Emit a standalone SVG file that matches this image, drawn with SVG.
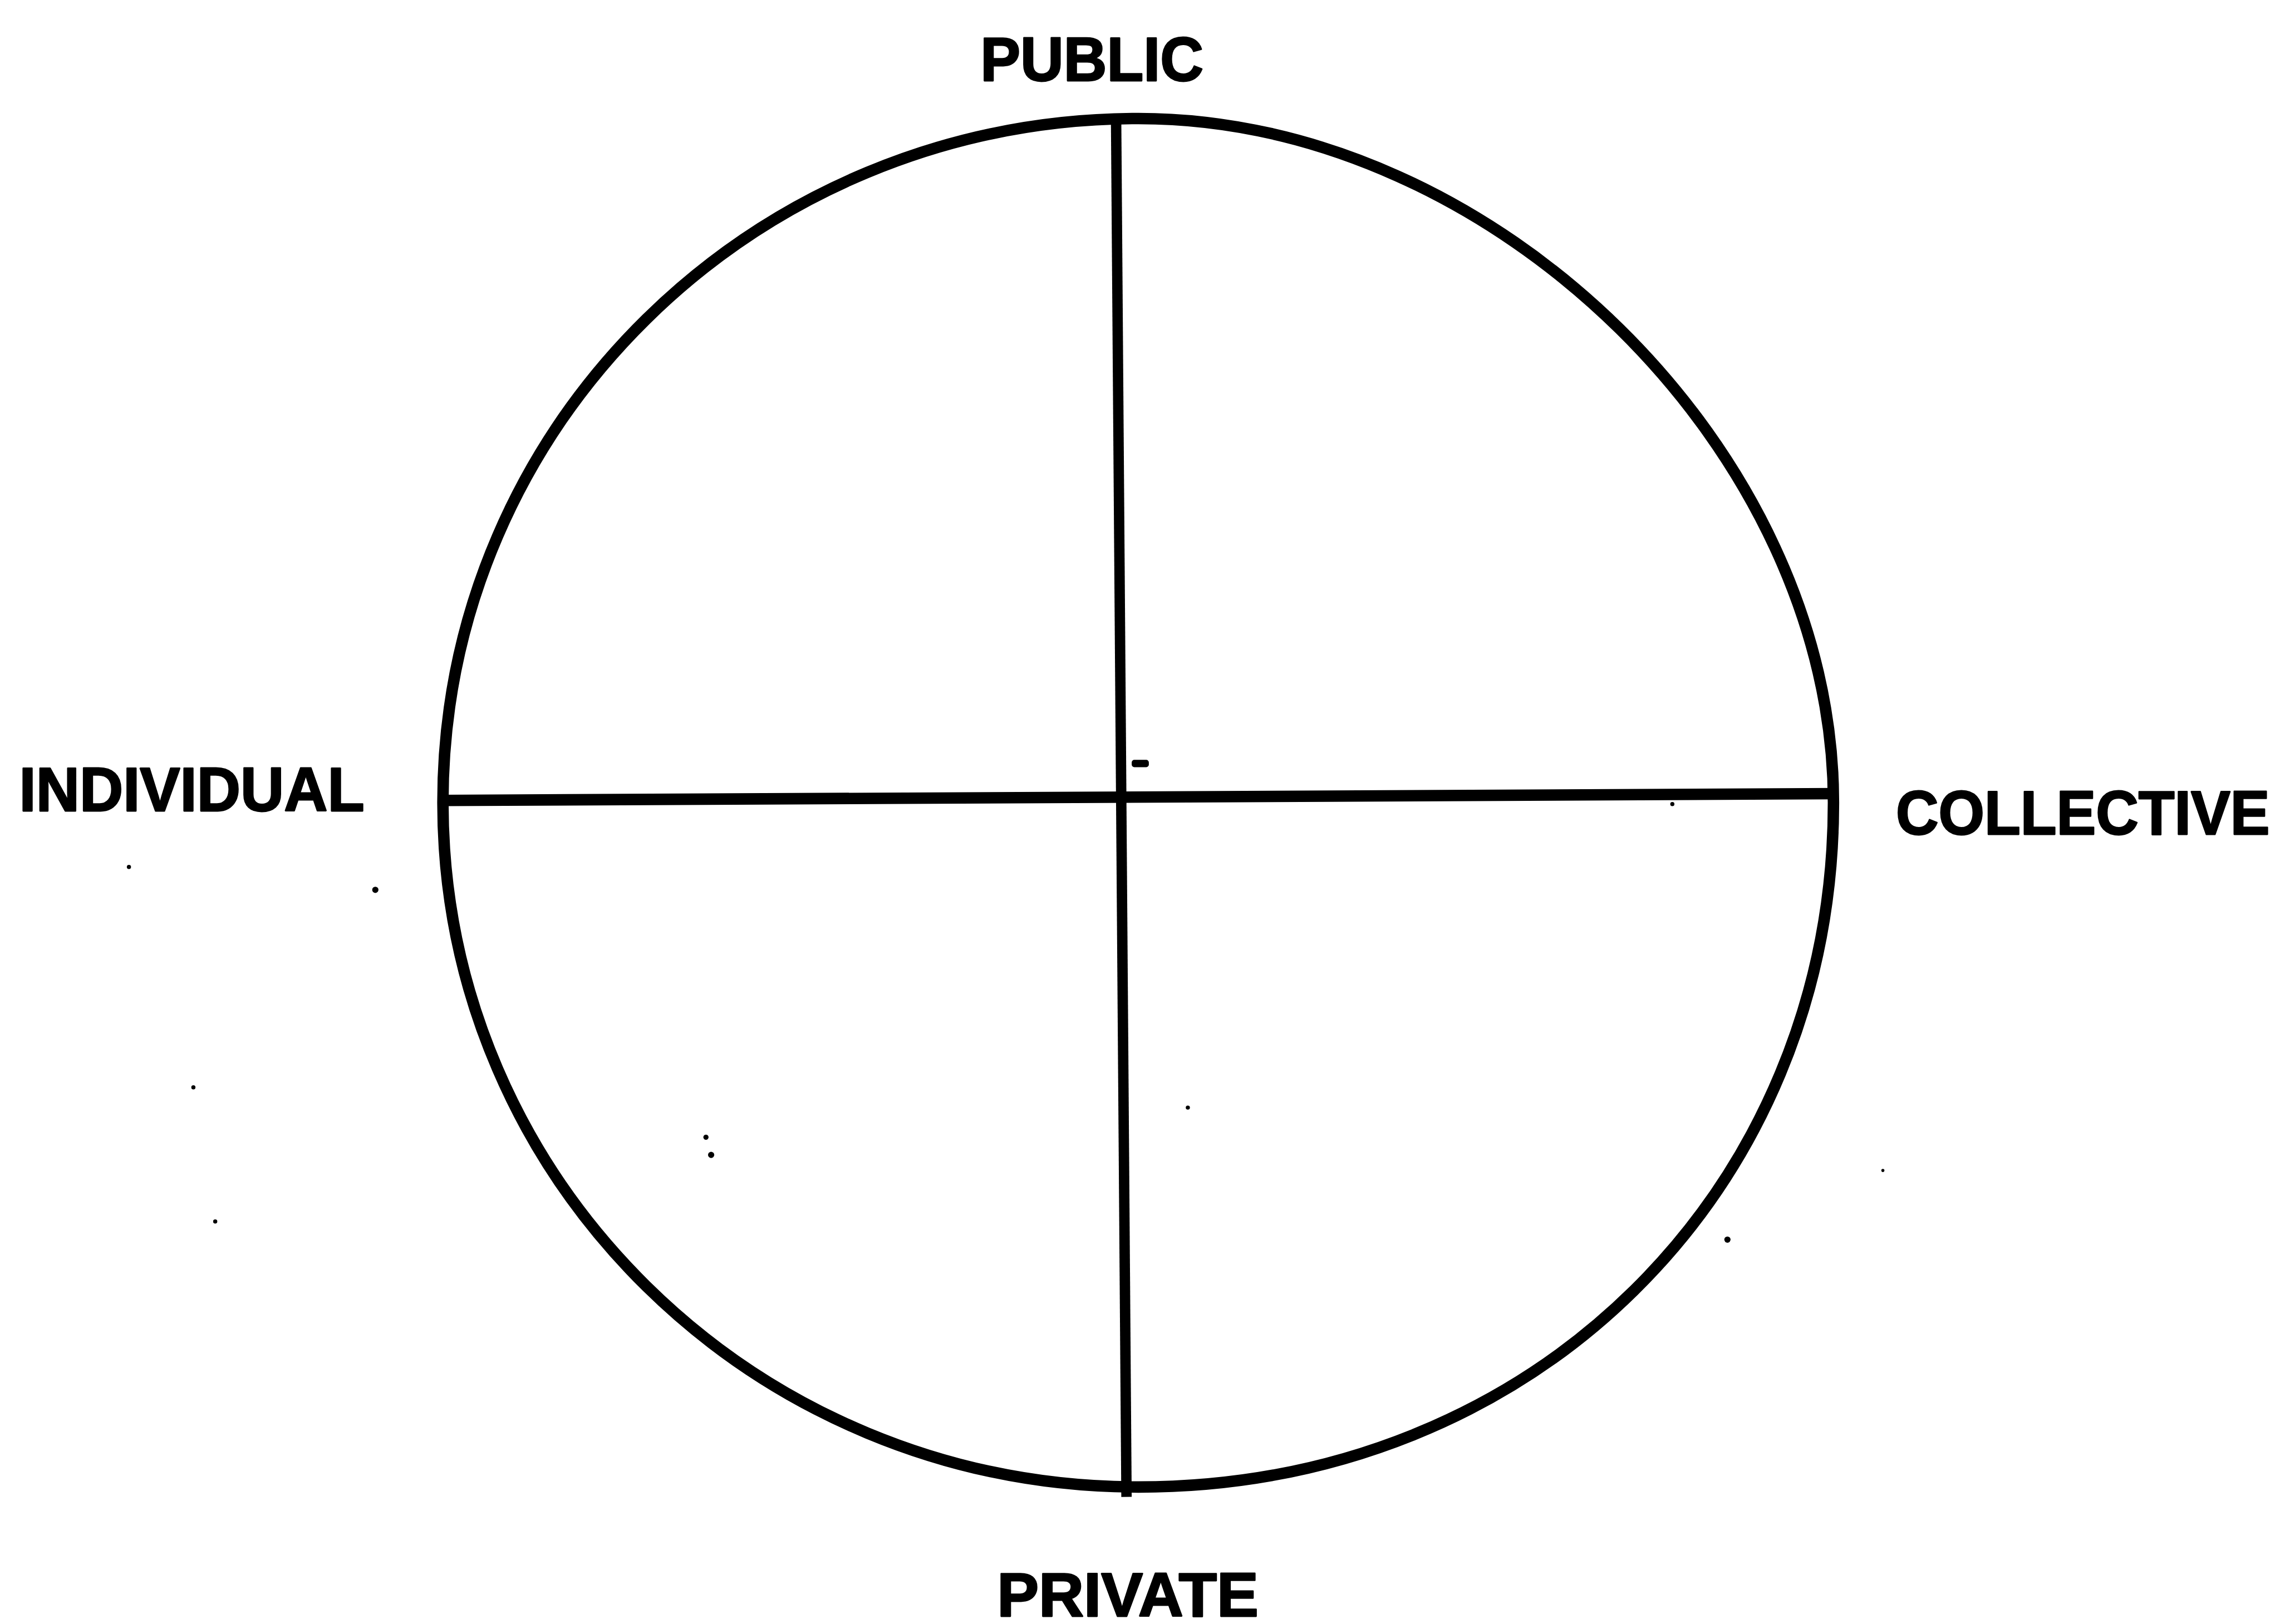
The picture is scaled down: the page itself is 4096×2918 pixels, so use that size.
<svg xmlns="http://www.w3.org/2000/svg" width="4096" height="2918" viewBox="0 0 4096 2918">
  <style>
    .lbl { font-family: "Liberation Sans", Arial, Helvetica, sans-serif; font-weight: bold; font-size: 120px; fill: #000; stroke: #000; stroke-width: 3; stroke-linejoin: round; }
    .ring { fill: none; stroke: #000; stroke-width: 22; stroke-linejoin: round; }
    .axis { stroke: #000; stroke-linecap: butt; }
    .speck { fill: #000; }
  </style>
  <rect width="4096" height="2918" fill="#fff"/>
  <g transform="scale(0.93389)">
    <g id="circle">
      <path class="ring" d="M2190,228 C2876,228 3527,869 3527,1544 C3527,2292 2949,2861 2190,2861 C1451,2861 852,2271 852,1544 C852,817 1451,228 2190,228 Z"/>
    </g>
    <g id="connectors">
      <line class="axis" x1="2147" y1="228" x2="2167" y2="2880" stroke-width="20"/>
      <line class="axis" x1="852" y1="1540" x2="3527" y2="1527" stroke-width="22"/>
    </g>
    <g id="label-public">
      <text class="lbl" x="1886" y="155" textLength="429" lengthAdjust="spacingAndGlyphs">PUBLIC</text>
    </g>
    <g id="label-individual">
      <text class="lbl" x="37" y="1560" textLength="664" lengthAdjust="spacingAndGlyphs">INDIVIDUAL</text>
    </g>
    <g id="label-collective">
      <text class="lbl" x="3647" y="1605" textLength="719" lengthAdjust="spacingAndGlyphs">COLLECTIVE</text>
    </g>
    <g id="label-private">
      <text class="lbl" x="1918" y="3110" textLength="503" lengthAdjust="spacingAndGlyphs">PRIVATE</text>
    </g>
    <g id="specks">
      <circle class="speck" cx="248" cy="1668" r="4"/>
      <circle class="speck" cx="722" cy="1712" r="6"/>
      <circle class="speck" cx="372" cy="2092" r="4"/>
      <circle class="speck" cx="414" cy="2350" r="4"/>
      <circle class="speck" cx="1358" cy="2188" r="5"/>
      <circle class="speck" cx="1368" cy="2222" r="6"/>
      <circle class="speck" cx="2285" cy="2131" r="4"/>
      <circle class="speck" cx="3622" cy="2252" r="3"/>
      <circle class="speck" cx="3323" cy="2385" r="6"/>
      <circle class="speck" cx="3217" cy="1547" r="4"/>
      <rect class="speck" x="2177" y="1462" width="33" height="14" rx="5"/>
    </g>
  </g>
</svg>
